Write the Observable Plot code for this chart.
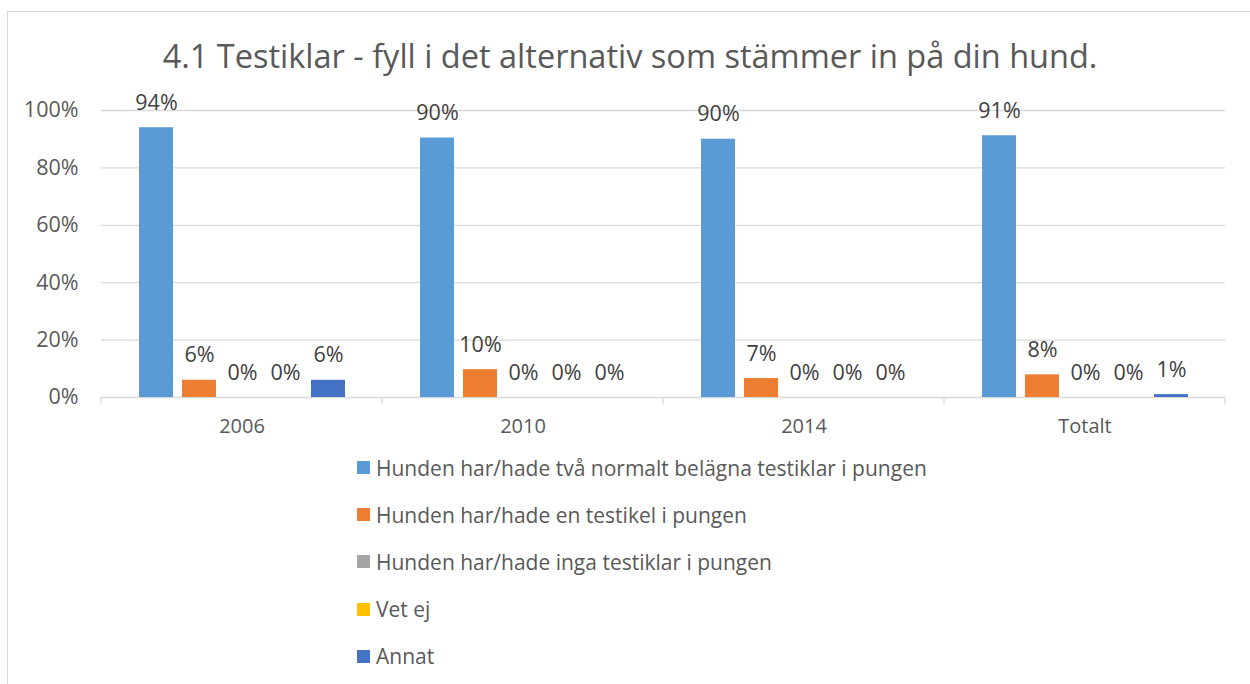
<!DOCTYPE html>
<html><head><meta charset="utf-8">
<script src="https://cdn.jsdelivr.net/npm/d3@7"></script>
<script src="https://cdn.jsdelivr.net/npm/@observablehq/plot@0.6"></script>
<style>
body{margin:0;background:#fff;font-family:"Open Sans",sans-serif;overflow:hidden}
#frame{position:absolute;left:7px;top:11px;width:1260px;height:700px;border:1.5px solid #d9d9d9;box-sizing:border-box}
#title{position:absolute;top:33px;left:0;width:1260px;text-align:center;font-size:32.5px;color:#595959;white-space:nowrap}
#chart{position:absolute;left:0;top:60px}
#legend{position:absolute;left:357px;top:444px}
.item{display:flex;align-items:center;height:47.2px;font-size:21px;color:#595959;white-space:nowrap}
.sw{width:13px;height:13px;margin-right:6px;flex:none}
</style></head>
<body>
<div id="frame"></div>
<div id="title">4.1 Testiklar - fyll i det alternativ som stämmer in på din hund.</div>
<div id="chart"></div>
<div id="legend"></div>
<script>
const categories = ["2006", "2010", "2014", "Totalt"];
const series = [
  "Hunden har/hade två normalt belägna testiklar i pungen",
  "Hunden har/hade en testikel i pungen",
  "Hunden har/hade inga testiklar i pungen",
  "Vet ej",
  "Annat"
];
const colors = ["#5B9BD5", "#ED7D31", "#A5A5A5", "#FFC000", "#4472C4"];
const values2006 = [0.94, 0.06, 0, 0, 0.06];
const values2010 = [0.904, 0.097, 0, 0, 0];
const values2014 = [0.90, 0.066, 0, 0, 0];
const valuesTotalt = [0.912, 0.079, 0, 0, 0.01];
const yTicks = [0, 0.2, 0.4, 0.6, 0.8, 1];

const allValues = [values2006, values2010, values2014, valuesTotalt];
const data = categories.flatMap((c, i) => series.map((s, j) => ({cat: c, series: s, value: allValues[i][j]})));
const fmt = d3.format(".0%");

const plot = Plot.plot({
  width: 1250, height: 390,
  marginLeft: 100, marginRight: 24, marginTop: 50, marginBottom: 53,
  style: {fontFamily: "'Open Sans', sans-serif", fontSize: "20px", color: "#595959", background: "transparent"},
  fx: {domain: categories, padding: 0, label: null, axis: "bottom", tickSize: 0, tickPadding: 21},
  x: {domain: series, paddingInner: 0.21, paddingOuter: 0.87, axis: null},
  y: {domain: [0, 1], label: null, axis: null},
  color: {domain: series, range: colors},
  marks: [
    Plot.ruleY(yTicks, {stroke: "#d9d9d9", strokeWidth: 1.3}),
    Plot.axisY({ticks: yTicks, tickFormat: ".0%", tickSize: 0, tickPadding: 23, label: null, fontSize: 21.5}),
    Plot.barY(data, {fx: "cat", x: "series", y: "value", fill: "series"}),
    Plot.text(data, {fx: "cat", x: "series", y: "value", text: d => fmt(d.value), lineAnchor: "bottom", dy: -18, fill: "#404040", fontSize: 21.5})
  ]
});
document.getElementById("chart").appendChild(plot);

// boundary ticks between categories, positioned by the fx scale
const fx = plot.scale("fx");
const y = plot.scale("y");
const bounds = categories.map(c => fx.apply(c)).concat([fx.apply(categories[categories.length - 1]) + fx.bandwidth]);
const y0 = y.apply(0);
d3.select(plot).append("g").selectAll("line").data(bounds).join("line")
  .attr("x1", d => d).attr("x2", d => d).attr("y1", y0).attr("y2", y0 + 7)
  .attr("stroke", "#d9d9d9").attr("stroke-width", 1.3);

const legend = d3.select("#legend");
series.forEach((s, i) => {
  const it = legend.append("div").attr("class", "item");
  it.append("div").attr("class", "sw").style("background", colors[i]);
  it.append("span").text(s);
});
</script>
</body></html>
